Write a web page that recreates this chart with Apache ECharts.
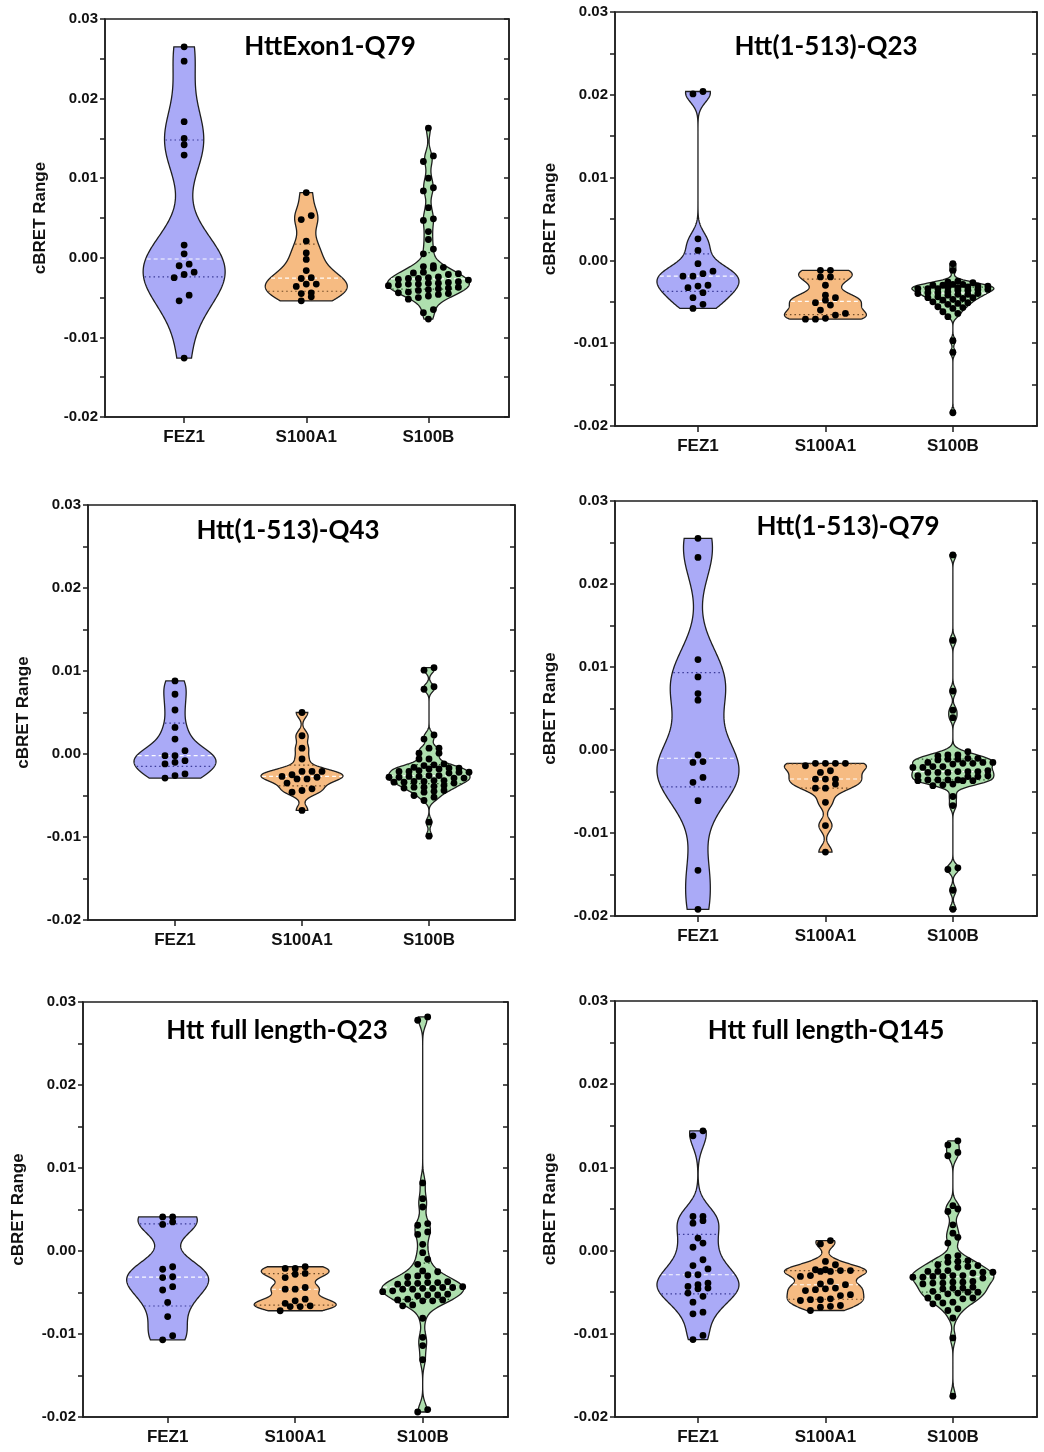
<!DOCTYPE html>
<html>
<head>
<meta charset="utf-8">
<script src="https://cdn.jsdelivr.net/npm/echarts@6/dist/echarts.min.js"></script>
<style>
  html, body { margin: 0; padding: 0; background: #ffffff; }
  #chart { width: 1044px; height: 1452px; }
</style>
</head>
<body>
<div id="chart"></div>
<script>
// ---------------- DATA ----------------
const categories = ['FEZ1', 'S100A1', 'S100B'];
const panelTitles = ['HttExon1-Q79', 'Htt(1-513)-Q23', 'Htt(1-513)-Q43', 'Htt(1-513)-Q79', 'Htt full length-Q23', 'Htt full length-Q145'];
const yAxisName = 'cBRET Range';
const yMin = -0.02, yMax = 0.03, yStep = 0.01;

// Panel 1: HttExon1-Q79
const fez1Exon1 = [0.0265, 0.0247, 0.0171, 0.0150, 0.0142, 0.0129, 0.0016, 0.0005, -0.0008, -0.0010, -0.0018, -0.0021, -0.0025, -0.0047, -0.0054, -0.0126];
const s100a1Exon1 = [0.0082, 0.0053, 0.0048, 0.0021, 0.0006, -0.0002, -0.0016, -0.0025, -0.0026, -0.0033, -0.0033, -0.0036, -0.0044, -0.0045, -0.0049, -0.0054];
const s100bExon1 = [0.0163, 0.0128, 0.0121, 0.0100, 0.0088, 0.0084, 0.0063, 0.0049, 0.0047, 0.0033, 0.0023, 0.0011, 0.0005, -0.0010, -0.0011, -0.0012, -0.0013, -0.0018, -0.0019, -0.0020, -0.0021, -0.0024, -0.0025, -0.0026, -0.0026, -0.0027, -0.0028, -0.0030, -0.0031, -0.0032, -0.0032, -0.0033, -0.0033, -0.0034, -0.0035, -0.0037, -0.0038, -0.0039, -0.0040, -0.0041, -0.0043, -0.0044, -0.0045, -0.0046, -0.0048, -0.0050, -0.0052, -0.0065, -0.0069, -0.0077];

// Panel 2: Htt(1-513)-Q23
const fez1Q23 = [0.0204, 0.0201, 0.0026, 0.0012, -0.0004, -0.0013, -0.0016, -0.0019, -0.0019, -0.0030, -0.0031, -0.0033, -0.0039, -0.0045, -0.0053, -0.0058];
const s100a1Q23 = [-0.0012, -0.0012, -0.0020, -0.0020, -0.0030, -0.0042, -0.0045, -0.0048, -0.0051, -0.0054, -0.0060, -0.0064, -0.0066, -0.0070, -0.0071, -0.0071];
const s100bQ23 = [-0.0004, -0.0012, -0.0025, -0.0026, -0.0027, -0.0029, -0.0029, -0.0030, -0.0030, -0.0031, -0.0031, -0.0032, -0.0033, -0.0033, -0.0034, -0.0034, -0.0034, -0.0035, -0.0035, -0.0036, -0.0036, -0.0038, -0.0039, -0.0039, -0.0040, -0.0040, -0.0041, -0.0041, -0.0042, -0.0044, -0.0045, -0.0045, -0.0046, -0.0047, -0.0048, -0.0050, -0.0051, -0.0052, -0.0053, -0.0056, -0.0057, -0.0058, -0.0062, -0.0064, -0.0068, -0.0097, -0.0111, -0.0184];

// Panel 3: Htt(1-513)-Q43
const fez1Q43 = [0.0088, 0.0072, 0.0053, 0.0032, 0.0018, 0.0004, -0.0002, -0.0002, -0.0008, -0.0010, -0.0012, -0.0024, -0.0026, -0.0029];
const s100a1Q43 = [0.0050, 0.0022, 0.0007, -0.0006, -0.0021, -0.0021, -0.0021, -0.0025, -0.0027, -0.0028, -0.0030, -0.0030, -0.0035, -0.0042, -0.0044, -0.0046, -0.0068];
const s100bQ43 = [0.0104, 0.0101, 0.0081, 0.0078, 0.0023, 0.0018, 0.0007, 0.0007, 0.0001, 0.0001, -0.0006, -0.0006, -0.0012, -0.0013, -0.0014, -0.0016, -0.0017, -0.0017, -0.0018, -0.0018, -0.0020, -0.0021, -0.0021, -0.0022, -0.0022, -0.0023, -0.0026, -0.0026, -0.0027, -0.0027, -0.0028, -0.0028, -0.0029, -0.0029, -0.0032, -0.0032, -0.0033, -0.0033, -0.0034, -0.0034, -0.0035, -0.0038, -0.0039, -0.0040, -0.0040, -0.0041, -0.0044, -0.0045, -0.0046, -0.0050, -0.0052, -0.0056, -0.0082, -0.0099];

// Panel 4: Htt(1-513)-Q79
const fez1Q79 = [0.0255, 0.0232, 0.0109, 0.0088, 0.0068, 0.0060, -0.0006, -0.0014, -0.0015, -0.0033, -0.0039, -0.0061, -0.0145, -0.0192];
const s100a1Q79 = [-0.0016, -0.0016, -0.0016, -0.0016, -0.0019, -0.0025, -0.0027, -0.0035, -0.0035, -0.0035, -0.0041, -0.0046, -0.0046, -0.0063, -0.0091, -0.0123];
const s100bQ79 = [0.0235, 0.0132, 0.0071, 0.0048, 0.0039, -0.0002, -0.0006, -0.0006, -0.0007, -0.0010, -0.0010, -0.0011, -0.0011, -0.0012, -0.0015, -0.0015, -0.0015, -0.0016, -0.0016, -0.0017, -0.0020, -0.0020, -0.0021, -0.0021, -0.0025, -0.0026, -0.0026, -0.0026, -0.0027, -0.0027, -0.0027, -0.0031, -0.0031, -0.0032, -0.0032, -0.0036, -0.0036, -0.0036, -0.0036, -0.0037, -0.0037, -0.0037, -0.0041, -0.0042, -0.0043, -0.0056, -0.0067, -0.0142, -0.0144, -0.0169, -0.0192];

// Panel 5: Htt full length-Q23
const fez1FL23 = [0.0041, 0.0041, 0.0035, 0.0032, -0.0019, -0.0022, -0.0031, -0.0032, -0.0043, -0.0047, -0.0062, -0.0079, -0.0102, -0.0107];
const s100a1FL23 = [-0.0019, -0.0021, -0.0021, -0.0027, -0.0028, -0.0032, -0.0044, -0.0046, -0.0046, -0.0058, -0.0060, -0.0063, -0.0066, -0.0067, -0.0067, -0.0072];
const s100bFL23 = [0.0282, 0.0278, 0.0082, 0.0063, 0.0053, 0.0033, 0.0031, 0.0023, 0.0020, 0.0008, -0.0002, -0.0010, -0.0016, -0.0024, -0.0025, -0.0030, -0.0030, -0.0031, -0.0037, -0.0038, -0.0038, -0.0039, -0.0039, -0.0040, -0.0043, -0.0044, -0.0044, -0.0045, -0.0045, -0.0046, -0.0046, -0.0048, -0.0049, -0.0052, -0.0053, -0.0053, -0.0054, -0.0058, -0.0059, -0.0059, -0.0060, -0.0060, -0.0065, -0.0066, -0.0081, -0.0104, -0.0114, -0.0131, -0.0191, -0.0194];

// Panel 6: Htt full length-Q145
const fez1FL145 = [0.0144, 0.0138, 0.0041, 0.0041, 0.0036, 0.0033, 0.0015, 0.0009, 0.0004, -0.0011, -0.0018, -0.0022, -0.0029, -0.0029, -0.0039, -0.0041, -0.0043, -0.0045, -0.0046, -0.0051, -0.0055, -0.0062, -0.0074, -0.0076, -0.0102, -0.0107];
const s100a1FL145 = [0.0012, 0.0008, -0.0013, -0.0017, -0.0023, -0.0023, -0.0024, -0.0024, -0.0025, -0.0025, -0.0030, -0.0031, -0.0037, -0.0040, -0.0041, -0.0045, -0.0046, -0.0047, -0.0048, -0.0053, -0.0054, -0.0058, -0.0059, -0.0059, -0.0060, -0.0066, -0.0067, -0.0068, -0.0072];
const s100bFL145 = [0.0132, 0.0127, 0.0118, 0.0114, 0.0054, 0.0050, 0.0047, 0.0031, 0.0021, 0.0016, 0.0009, -0.0006, -0.0008, -0.0012, -0.0013, -0.0014, -0.0017, -0.0018, -0.0019, -0.0020, -0.0024, -0.0025, -0.0025, -0.0026, -0.0026, -0.0027, -0.0030, -0.0030, -0.0031, -0.0031, -0.0032, -0.0032, -0.0033, -0.0037, -0.0038, -0.0038, -0.0039, -0.0039, -0.0040, -0.0044, -0.0045, -0.0045, -0.0046, -0.0049, -0.0050, -0.0050, -0.0051, -0.0052, -0.0056, -0.0057, -0.0057, -0.0058, -0.0062, -0.0063, -0.0064, -0.0070, -0.0072, -0.0081, -0.0105, -0.0175];

const panelGroups = [
  [fez1Exon1, s100a1Exon1, s100bExon1],
  [fez1Q23, s100a1Q23, s100bQ23],
  [fez1Q43, s100a1Q43, s100bQ43],
  [fez1Q79, s100a1Q79, s100bQ79],
  [fez1FL23, s100a1FL23, s100bFL23],
  [fez1FL145, s100a1FL145, s100bFL145]
];

// ---------------- LAYOUT / STYLE ----------------
const grids = [
  { left: 105, top: 19, width: 404, height: 398 },
  { left: 615, top: 12, width: 422, height: 414 },
  { left: 88, top: 505, width: 427, height: 415 },
  { left: 615, top: 501, width: 422, height: 415 },
  { left: 83, top: 1002, width: 425, height: 415 },
  { left: 615, top: 1001, width: 422, height: 416 }
];
const xRanges = [[-0.648, 2.66], [-0.651, 2.66], [-0.685, 2.677], [-0.651, 2.66], [-0.664, 2.669], [-0.651, 2.66]];
const titlePos = [[330, 47], [826, 47], [288, 531], [848, 527], [277, 1031], [826, 1031]];
const fillColors = ['#aaaaf7', '#f6bb82', '#aedfae'];
const quartColors = ['#3a3a98', '#6e4a26', '#2f5a2f'];
const AX = '#1e1e1e';
const HALF_W = 41;   // px, max half-width of each violin
const DOT_R = 3.4;
const DOT_STEP = 10;
const ROW_TOL = 6;
const BW_SCALE = 0.65;

function quantile(s, p) {
  const n = s.length; const pos = (n + 1) * p;
  if (pos <= 1) return s[0];
  if (pos >= n) return s[n - 1];
  const lo = Math.floor(pos); const f = pos - lo;
  return s[lo - 1] + f * (s[lo] - s[lo - 1]);
}
function bandwidth(s) {
  const n = s.length;
  const mean = s.reduce((a, b) => a + b, 0) / n;
  const sd = Math.sqrt(s.reduce((a, b) => a + (b - mean) * (b - mean), 0) / (n - 1));
  const iqr = quantile(s, 0.75) - quantile(s, 0.25);
  let m = Math.min(sd, iqr / 1.34);
  if (!(m > 0)) m = sd;
  return 0.9 * m * Math.pow(n, -0.2) * BW_SCALE;
}
function dens(s, h, y) {
  let t = 0;
  for (const v of s) { const u = (y - v) / h; t += Math.exp(-0.5 * u * u); }
  return t;
}

function makeRenderItem(panel) {
  return function (params, api) {
    const idx = params.dataIndex;
    const s = panelGroups[panel][idx].slice().sort((a, b) => a - b);
    const h = bandwidth(s);
    const lo = s[0], hi = s[s.length - 1];
    const N = 260;
    const ys = [], ds = [];
    let maxD = 0;
    for (let i = 0; i <= N; i++) {
      const y = lo + (hi - lo) * i / N;
      const d = dens(s, h, y);
      ys.push(y); ds.push(d);
      if (d > maxD) maxD = d;
    }
    const halfAt = v => dens(s, h, v) / maxD * HALF_W;
    const cx = api.coord([idx, 0])[0];
    const right = [], left = [];
    for (let i = 0; i <= N; i++) {
      const py = api.coord([idx, ys[i]])[1];
      const w = ds[i] / maxD * HALF_W;
      right.push([cx + w, py]);
      left.push([cx - w, py]);
    }
    const pts = right.concat(left.reverse());
    const children = [{
      type: 'polygon',
      shape: { points: pts },
      style: { fill: fillColors[idx], stroke: AX, lineWidth: 1.3 }
    }];
    // quartile lines
    const q = [quantile(s, 0.25), quantile(s, 0.5), quantile(s, 0.75)];
    q.forEach((qv, k) => {
      const w = halfAt(qv);
      const py = api.coord([idx, qv])[1];
      children.push({
        type: 'line',
        shape: { x1: cx - w + 1, y1: py, x2: cx + w - 1, y2: py },
        style: k === 1
          ? { stroke: 'rgba(255,255,255,0.95)', lineWidth: 1.1, lineDash: [4, 3] }
          : { stroke: quartColors[idx], lineWidth: 1.2, lineDash: [1.5, 3] }
      });
    });
    // dots (beeswarm rows, capped by the violin width)
    const pys = s.map(v => api.coord([idx, v])[1]);
    const rows = [];
    let cur = [0];
    let cap = Math.max(1, Math.round(2 * halfAt(s[0]) / DOT_STEP) + 1);
    for (let i = 1; i < s.length; i++) {
      const c = Math.max(1, Math.round(2 * halfAt(s[i]) / DOT_STEP) + 1);
      if (pys[cur[0]] - pys[i] < ROW_TOL && cur.length < Math.min(cap, c)) { cur.push(i); cap = Math.min(cap, c); }
      else { rows.push(cur); cur = [i]; cap = c; }
    }
    rows.push(cur);
    rows.forEach(r => {
      const k = r.length;
      r.forEach((pi, j) => {
        children.push({
          type: 'circle',
          shape: { cx: cx + (j - (k - 1) / 2) * DOT_STEP, cy: pys[pi], r: DOT_R },
          style: { fill: '#000000' }
        });
      });
    });
    return { type: 'group', children: children };
  };
}

const option = {
  backgroundColor: '#ffffff',
  animation: false,
  grid: [], xAxis: [], yAxis: [], series: [], graphic: []
};

const labelFont = { fontFamily: 'Liberation Sans, Arial, sans-serif', fontWeight: 'bold', color: '#111' };

for (let p = 0; p < 6; p++) {
  option.grid.push(Object.assign({ show: true, borderColor: AX, borderWidth: 1.5, backgroundColor: 'transparent' }, grids[p]));
  option.xAxis.push({
    gridIndex: p, type: 'value', min: xRanges[p][0], max: xRanges[p][1], position: 'bottom',
    axisLine: { show: true, onZero: false, lineStyle: { color: AX, width: 1.5 } },
    axisTick: { show: true, customValues: [0, 1, 2], length: 6, lineStyle: { color: AX, width: 1.5 } },
    axisLabel: Object.assign({ customValues: [0, 1, 2], formatter: v => categories[Math.round(v)] || '', fontSize: 17, margin: 12 }, labelFont),
    splitLine: { show: false }
  });
  option.yAxis.push({
    gridIndex: p, type: 'value', position: 'left', min: yMin, max: yMax, interval: yStep,
    axisLine: { show: true, onZero: false, lineStyle: { color: AX, width: 1.5 } },
    axisTick: { show: true, inside: false, length: 5, lineStyle: { color: AX, width: 1.5 } },
    minorTick: { show: true, splitNumber: 2, length: 5, lineStyle: { color: AX, width: 1.5 } },
    axisLabel: Object.assign({ fontSize: 15, margin: 7, formatter: v => (Math.abs(v) < 1e-9 ? '0.00' : v.toFixed(2)) }, labelFont),
    splitLine: { show: false },
    name: yAxisName, nameLocation: 'middle', nameGap: 56, nameRotate: 90,
    nameTextStyle: Object.assign({ fontSize: 17 }, labelFont)
  });
  option.yAxis.push({
    gridIndex: p, type: 'value', position: 'right', min: yMin, max: yMax, interval: yStep,
    axisLine: { show: true, onZero: false, lineStyle: { color: AX, width: 1.5 } },
    axisTick: { show: true, inside: true, length: 5, lineStyle: { color: AX, width: 1.5 } },
    minorTick: { show: true, splitNumber: 2, length: 5, lineStyle: { color: AX, width: 1.5 } },
    axisLabel: { show: false },
    splitLine: { show: false }
  });
  option.series.push({
    type: 'custom', coordinateSystem: 'cartesian2d', xAxisIndex: p, yAxisIndex: p * 2,
    clip: false, silent: true,
    data: [[0, 0], [1, 0], [2, 0]],
    renderItem: makeRenderItem(p)
  });
  option.graphic.push({
    type: 'text', x: titlePos[p][0], y: titlePos[p][1], z: 100,
    style: { text: panelTitles[p], font: 'bold 26px Lato, "Open Sans", sans-serif', fill: '#000', align: 'center', verticalAlign: 'middle' }
  });
}

const chart = echarts.init(document.getElementById('chart'), null, { renderer: 'canvas' });
chart.setOption(option);
</script>
</body>
</html>
